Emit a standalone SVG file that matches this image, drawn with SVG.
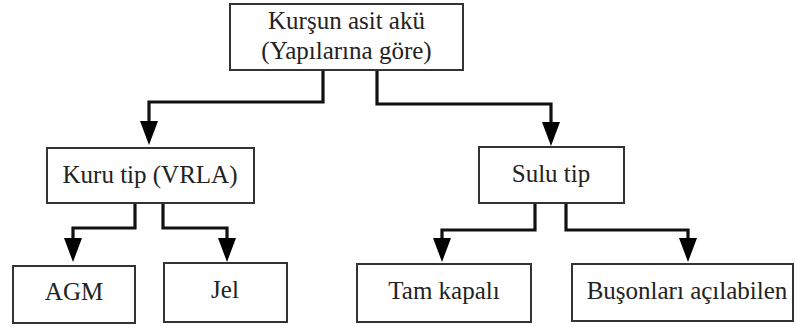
<svg xmlns="http://www.w3.org/2000/svg" width="795" height="329" viewBox="0 0 795 329">
<style>
.box{fill:#fff;stroke:#333;stroke-width:2}
.t{font-family:'Liberation Serif','Times New Roman',serif;font-size:25px;fill:#222;text-anchor:middle}
.c{fill:none;stroke:#111;stroke-width:3.2}
</style>
<defs>
<marker id="ah" markerUnits="userSpaceOnUse" markerWidth="26" markerHeight="20" refX="0" refY="9" orient="auto" viewBox="0 0 26 18">
<path d="M0,0 L24,9 L0,18 z" fill="#000"/>
</marker>
</defs>
<rect width="795" height="329" fill="#fff"/>
<g id="connectors">
<path class="c" d="M323,70 V102 H149 V121" marker-end="url(#ah)"/>
<path class="c" d="M377,70 V104 H551 V122" marker-end="url(#ah)"/>
<path class="c" d="M135,203 V228 H73 V238" marker-end="url(#ah)"/>
<path class="c" d="M163,203 V228 H227 V238" marker-end="url(#ah)"/>
<path class="c" d="M535,203 V230 H442 V238" marker-end="url(#ah)"/>
<path class="c" d="M566,203 V230 H688 V238" marker-end="url(#ah)"/>
</g>
<g id="root">
<rect class="box" x="230" y="4" width="233" height="66"/>
<text class="t" x="346.5" y="29">Kurşun asit akü</text>
<text class="t" x="346.5" y="59">(Yapılarına göre)</text>
</g>
<g id="kuru">
<rect class="box" x="47" y="148" width="207" height="55"/>
<text class="t" x="150" y="183">Kuru tip (VRLA)</text>
</g>
<g id="sulu">
<rect class="box" x="479" y="147" width="145" height="56"/>
<text class="t" x="551" y="182">Sulu tip</text>
</g>
<g id="agm">
<rect class="box" x="13" y="266" width="122" height="57"/>
<text class="t" x="74" y="300">AGM</text>
</g>
<g id="jel">
<rect class="box" x="164" y="263" width="123" height="59"/>
<text class="t" x="225" y="298">Jel</text>
</g>
<g id="tam">
<rect class="box" x="357" y="264" width="174" height="58"/>
<text class="t" x="444" y="299">Tam kapalı</text>
</g>
<g id="buson">
<rect class="box" x="572" y="264" width="221" height="57"/>
<text class="t" x="687" y="299">Buşonları açılabilen</text>
</g>
</svg>
